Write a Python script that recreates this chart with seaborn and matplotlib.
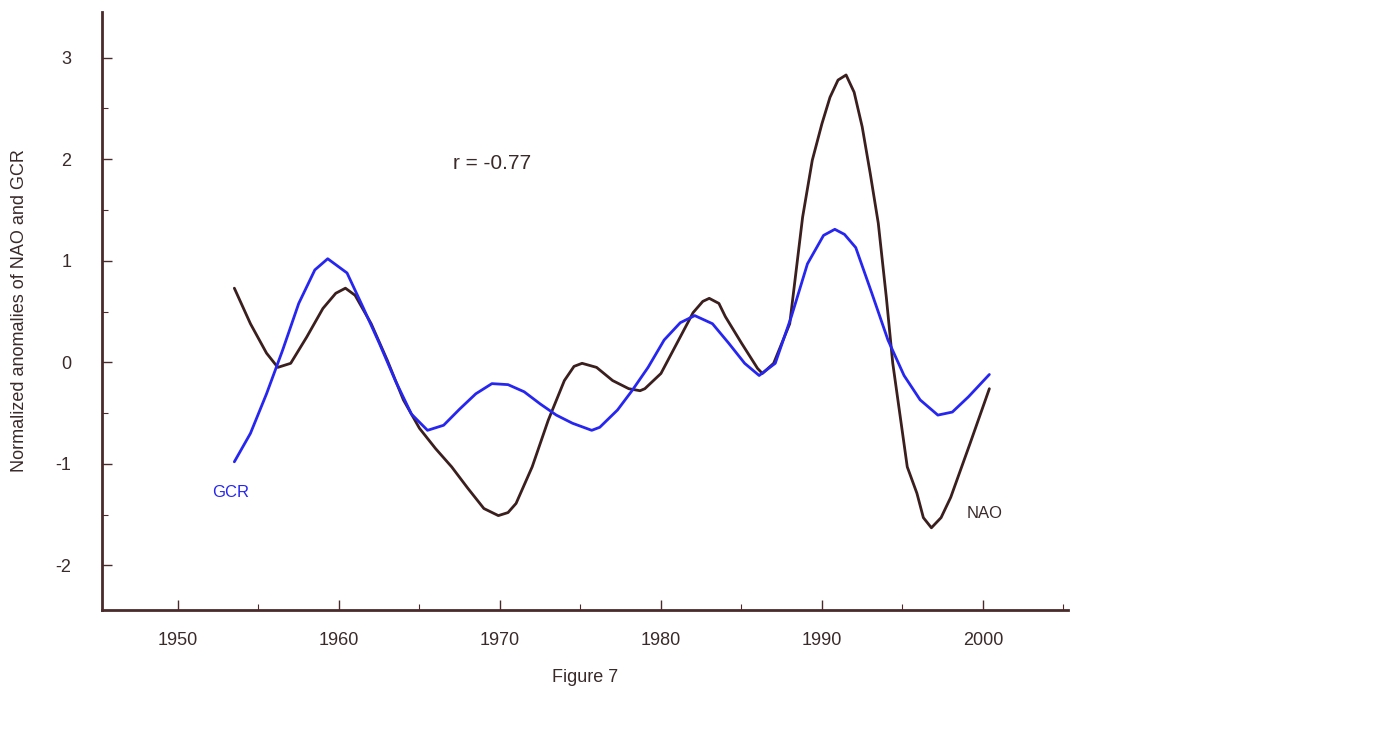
import matplotlib
matplotlib.use("Agg")
import matplotlib.pyplot as plt
import seaborn as sns
import pandas as pd
from matplotlib.ticker import MultipleLocator

# values
nao_years = [1953.5, 1954.5, 1955.5, 1956.2, 1957, 1958, 1959, 1959.8, 1960.4, 1961, 1962, 1963,
             1964, 1965, 1966, 1967, 1968, 1969, 1969.9, 1970.5, 1971, 1972, 1973, 1974, 1974.6,
             1975.1, 1976, 1977, 1978, 1978.7, 1979, 1980, 1981, 1982, 1982.6, 1983, 1983.6,
             1984, 1985, 1986, 1986.3, 1987, 1988, 1988.8, 1989.4, 1990, 1990.5, 1991, 1991.5,
             1992, 1992.5, 1993, 1993.5, 1994, 1994.4, 1995.3, 1995.9, 1996.3, 1996.8, 1997.4,
             1998, 1999.2, 2000.4]
nao_vals = [0.73, 0.38, 0.09, -0.05, -0.01, 0.25, 0.53, 0.68, 0.73, 0.66, 0.38, 0.02,
            -0.37, -0.65, -0.85, -1.03, -1.24, -1.44, -1.51, -1.48, -1.39, -1.03, -0.57, -0.18, -0.04,
            -0.01, -0.05, -0.18, -0.26, -0.28, -0.26, -0.11, 0.19, 0.49, 0.60, 0.63, 0.58,
            0.45, 0.19, -0.06, -0.11, -0.01, 0.38, 1.43, 1.99, 2.35, 2.61, 2.78, 2.83,
            2.66, 2.32, 1.86, 1.37, 0.64, -0.01, -1.03, -1.29, -1.53, -1.63, -1.53,
            -1.33, -0.80, -0.26]

gcr_years = [1953.5, 1954.5, 1955.5, 1956.5, 1957.5, 1958.5, 1959.3, 1960.5, 1961.5, 1962.5,
             1963.5, 1964.5, 1965.5, 1966.5, 1967.5, 1968.5, 1969.5, 1970.5, 1971.5, 1972.5,
             1973.5, 1974.5, 1975.7, 1976.2, 1977.3, 1978.2, 1979.2, 1980.2, 1981.2, 1982.1,
             1983.2, 1984.2, 1985.2, 1986.1, 1987.1, 1988.1, 1989.1, 1990.1, 1990.8, 1991.4,
             1992.1, 1993.1, 1994.1, 1995.1, 1996.1, 1997.2, 1998.1, 1999.1, 2000.4]
gcr_vals = [-0.98, -0.70, -0.31, 0.12, 0.58, 0.91, 1.02, 0.88, 0.54, 0.19,
            -0.18, -0.51, -0.67, -0.62, -0.46, -0.31, -0.21, -0.22, -0.29, -0.41,
            -0.52, -0.60, -0.67, -0.64, -0.47, -0.28, -0.05, 0.22, 0.39, 0.46,
            0.38, 0.19, -0.01, -0.13, -0.01, 0.45, 0.97, 1.25, 1.31, 1.26, 1.13,
            0.68, 0.22, -0.13, -0.37, -0.52, -0.49, -0.34, -0.12]

nao_color = "#3b1e1e"
gcr_color = "#2626f0"
axis_color = "#4a2a2a"
text_color = "#3a2a2a"

sns.set_style("ticks")
plt.rcParams["font.family"] = ["Liberation Sans", "DejaVu Sans"]
plt.rcParams["axes.unicode_minus"] = False

df_nao = pd.DataFrame({"year": nao_years, "value": nao_vals})
df_gcr = pd.DataFrame({"year": gcr_years, "value": gcr_vals})

fig = plt.figure(figsize=(13.73, 7.38), dpi=100)
ax = fig.add_axes([0.0743, 0.1734, 0.7035, 0.8103])

sns.lineplot(data=df_nao, x="year", y="value", color=nao_color, lw=2.0, ax=ax)
sns.lineplot(data=df_gcr, x="year", y="value", color=gcr_color, lw=2.0, ax=ax)

ax.set_xlim(1945.28, 2005.28)
ax.set_ylim(-2.44, 3.45)
ax.xaxis.set_major_locator(MultipleLocator(10))
ax.xaxis.set_minor_locator(MultipleLocator(5))
ax.yaxis.set_major_locator(MultipleLocator(1))
ax.yaxis.set_minor_locator(MultipleLocator(0.5))
ax.tick_params(which="major", direction="in", length=7, width=1, colors=axis_color,
               labelcolor=text_color, labelsize=13, pad=16)
ax.tick_params(which="minor", direction="in", length=4, width=0.8, colors=axis_color)
ax.tick_params(axis="y", which="major", pad=22)

for side in ["top", "right"]:
    ax.spines[side].set_visible(False)
for side in ["left", "bottom"]:
    ax.spines[side].set_color(axis_color)
    ax.spines[side].set_linewidth(2)

ax.set_xlabel("Figure 7", fontsize=13, color=text_color, labelpad=14)
ax.set_ylabel("Normalized anomalies of NAO and GCR", fontsize=13, color=text_color, labelpad=20)

ax.text(1969.5, 1.96, "r = -0.77", fontsize=15, color=text_color, ha="center", va="center")
ax.text(1953.3, -1.28, "GCR", fontsize=12, color=gcr_color, ha="center", va="center")
ax.text(2000.1, -1.49, "NAO", fontsize=12, color=text_color, ha="center", va="center")

fig.savefig("out.png", dpi=100)
